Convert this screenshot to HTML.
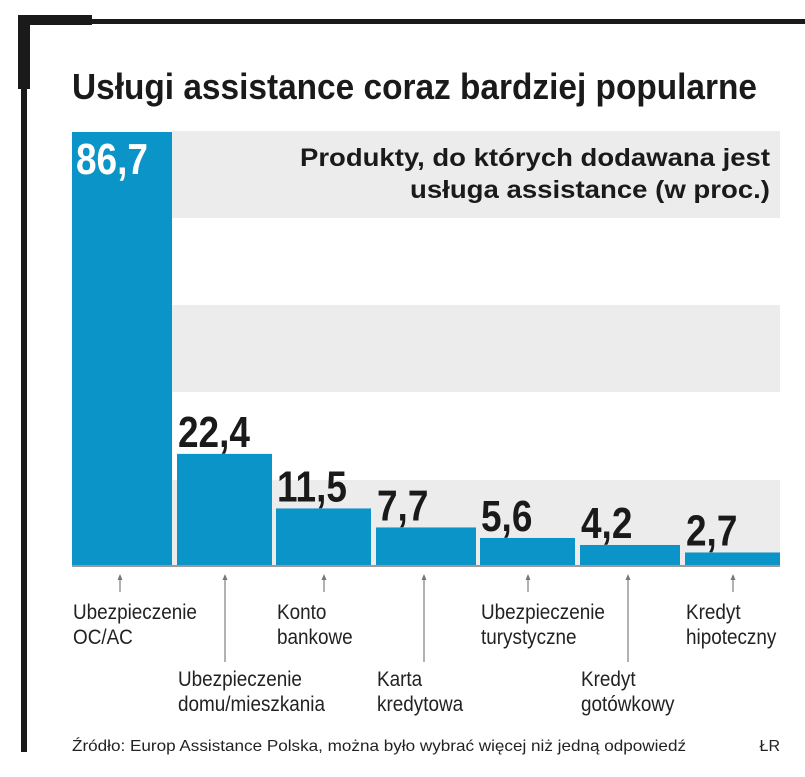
<!DOCTYPE html>
<html><head><meta charset="utf-8">
<style>
html,body{margin:0;padding:0;background:#fff;}
svg{display:block;font-family:"Liberation Sans",sans-serif;}
</style></head>
<body>
<svg id="chart" width="805" height="777" viewBox="0 0 805 777">
  <rect x="18" y="15" width="74" height="10" fill="#1a1a1a"/>
  <rect x="18" y="19" width="787" height="5" fill="#1a1a1a"/>
  <rect x="18" y="15" width="12" height="74" fill="#1a1a1a"/>
  <rect x="21" y="15" width="6" height="737" fill="#1a1a1a"/>
  <text x="72" y="99" font-size="36" font-weight="bold" fill="#1a1a1a" textLength="685" lengthAdjust="spacingAndGlyphs">Usługi assistance coraz bardziej popularne</text>
  <g id="bands"></g>
  <g id="bars"></g>
  <text x="300" y="166" font-size="25" font-weight="bold" fill="#1a1a1a" textLength="470" lengthAdjust="spacingAndGlyphs">Produkty, do których dodawana jest</text>
  <text x="410" y="198" font-size="25" font-weight="bold" fill="#1a1a1a" textLength="360" lengthAdjust="spacingAndGlyphs">usługa assistance (w proc.)</text>
  <line x1="72" y1="566" x2="780" y2="566" stroke="#9a9a9a" stroke-width="2"/>
  <g id="labels"></g>
  <text x="72" y="751" font-size="16" fill="#222" textLength="614" lengthAdjust="spacingAndGlyphs">Źródło: Europ Assistance Polska, można było wybrać więcej niż jedną odpowiedź</text>
  <text x="780" y="751" font-size="16" fill="#222" text-anchor="end">ŁR</text>
</svg>
<script>
const categories = [["Ubezpieczenie","OC/AC"],["Ubezpieczenie","domu/mieszkania"],["Konto","bankowe"],["Karta","kredytowa"],["Ubezpieczenie","turystyczne"],["Kredyt","gotówkowy"],["Kredyt","hipoteczny"]];
const values = [86.7, 22.4, 11.5, 7.7, 5.6, 4.2, 2.7];
const valueLabels = ["86,7","22,4","11,5","7,7","5,6","4,2","2,7"];
const barLefts = [72,177,276,376,480,580,685];
const barRights = [172,272,371,476,575,680,780];
const NS = "http://www.w3.org/2000/svg";
const baseY = 566, pxPerUnit = 434/86.7;
function y(v){ return baseY - v*pxPerUnit; }
function mk(tag, attrs, parent){ const e=document.createElementNS(NS,tag); for(const k in attrs) e.setAttribute(k,attrs[k]); parent.appendChild(e); return e; }
const bands = document.getElementById('bands');
[[131,218],[305,392],[480,566]].forEach((b,i)=>{
  const r = mk('rect',{x:172,y:b[0],width:608,height:b[1]-b[0],fill:'#ececec'},bands);
  
  
});
const bars = document.getElementById('bars');
const labels = document.getElementById('labels');
values.forEach((v,i)=>{
  const x0 = barLefts[i], w = barRights[i]-barLefts[i];
  const r = mk('rect',{x:x0,y:y(v),width:w,height:baseY-y(v),fill:'#0a94c8'},bars);
  
  
  let t;
  if (i===0) {
    t = mk('text',{x:0,y:0,'font-size':44,'font-weight':'bold',fill:'#fff',transform:`translate(${x0+4},${y(v)+42}) scale(0.84,1)`},bars);
  } else {
    t = mk('text',{x:0,y:0,'font-size':44,'font-weight':'bold',fill:'#1a1a1a',transform:`translate(${x0+1},${y(v)-7}) scale(0.84,1)`},bars);
  }
  t.textContent = valueLabels[i];
  
  
  const second = i%2===1;
  const ax = x0 + 48;
  const l = mk('line',{x1:ax,y1:576,x2:ax,y2: second?662:592,stroke:'#999','stroke-width':1.5},labels);
  
  
  const a = mk('path',{d:`M${ax-2.5} 580 L${ax} 574 L${ax+2.5} 580 Z`,fill:'#777'},labels);
  
  
  const ly = second ? 686 : 619;
  categories[i].forEach((line,j)=>{
    const tt = mk('text',{x:0,y:0,'font-size':21,fill:'#222',transform:`translate(${x0+1},${ly+j*25}) scale(0.9,1)`},labels);
    tt.textContent = line;
    
    
  });
});
</script>
</body></html>
